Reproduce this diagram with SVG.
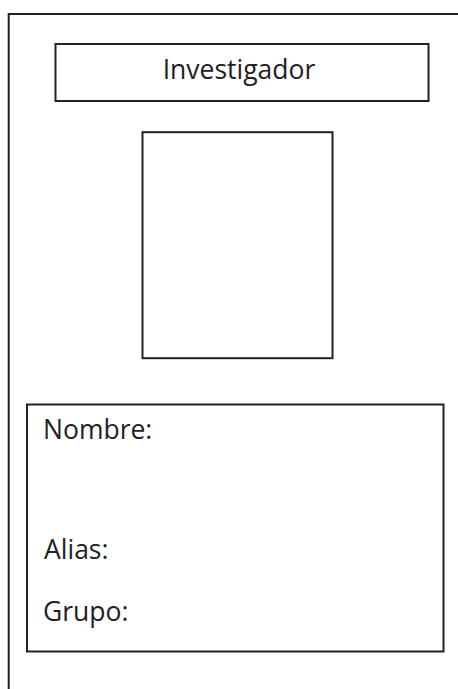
<svg xmlns="http://www.w3.org/2000/svg" width="458" height="689" viewBox="0 0 458 689">
<style>
.box{fill:#fff;stroke:#222;stroke-width:2}
.t{font-family:"Open Sans","Liberation Sans",sans-serif;font-size:26.5px;fill:#222}
</style>
<rect width="458" height="689" fill="#fff"/>
<g id="card"><rect class="box" x="8.7" y="14" width="470" height="700"/></g>
<g id="title"><rect class="box" x="55.5" y="44" width="373" height="57"/><text class="t" x="239" y="79" text-anchor="middle">Investigador</text></g>
<g id="photo"><rect class="box" x="142.5" y="132.2" width="190" height="226"/></g>
<g id="info"><rect class="box" x="27" y="404.5" width="416.5" height="247"/>
<text class="t" x="43" y="439">Nombre:</text>
<text class="t" x="44" y="559">Alias:</text>
<text class="t" x="43" y="621">Grupo:</text></g>
<g id="connectors"/>
</svg>
